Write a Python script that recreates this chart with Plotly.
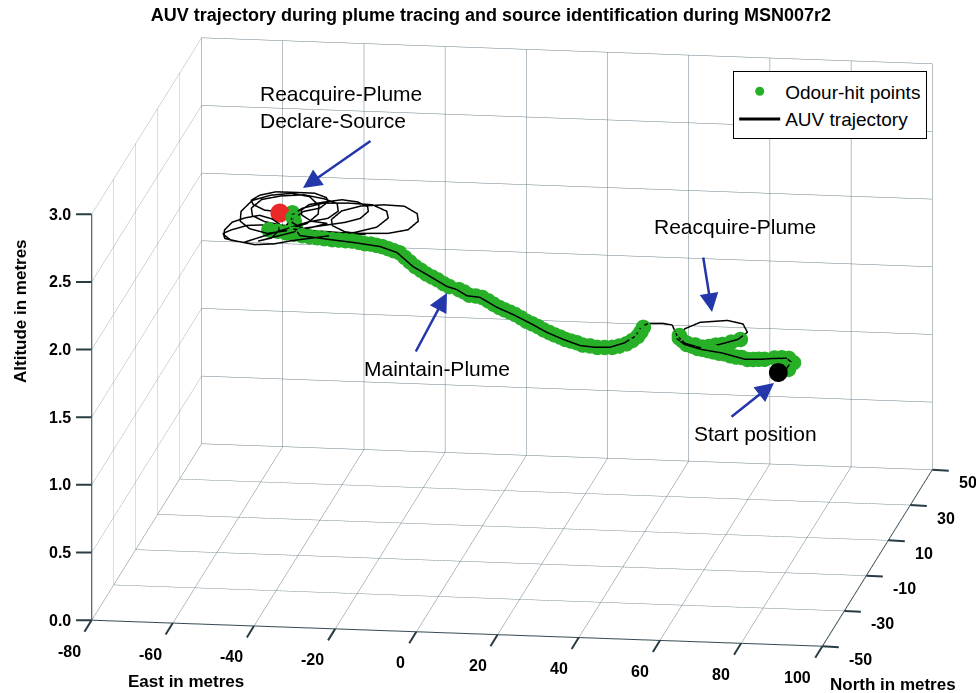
import plotly.graph_objects as go

# ---------------- AUV track (East, North, Altitude in metres) ----------------
# outbound leg from the start point, including the small hook
leg_start_east = [86.8, 88.3, 88.6, 86.7, 83.1, 81.0, 76.9, 70.6, 64.6, 60.0, 57.2]
leg_start_north = [-41.5, -39.7, -36.3, -33.6, -33.3, -34.6, -35.0, -32.7, -30.3, -27.9, -24.2]
leg_start_alt = [1.90, 1.90, 1.91, 1.90, 1.89, 1.90, 1.90, 1.91, 1.90, 1.90, 1.89]

# loop flown while reacquiring the plume
leg_reacq_east = [57.6, 60.5, 66.8, 71.3, 73.4, 72.2, 68.6, 64.1, 60.0, 56.9, 54.4, 51.7, 48.1]
leg_reacq_north = [-18.5, -15.4, -13.8, -16.2, -20.0, -24.1, -27.2, -28.7, -27.3, -23.1, -18.2, -16.7, -17.0]
leg_reacq_alt = [1.89, 1.90, 1.90, 1.91, 1.90, 1.90, 1.90, 1.89, 1.90, 1.90, 1.91, 1.90, 1.90]

# plume maintained up to the source area
leg_maint_east = [47.0, 47.0, 45.5, 42.5, 38.9, 34.9, 30.0, 25.1, 19.8, 14.2, 9.3,
                  3.7, 0.1, -3.1, -5.9, -11.4, -17.1, -23.0, -28.0, -34.4, -41.2, -49.0]
leg_maint_north = [-19.3, -24.4, -29.1, -31.0, -31.3, -29.9, -27.5, -24.0, -19.9, -14.7, -11.1,
                   -5.9, -4.5, -2.0, -0.5, 4.1, 9.9, 17.3, 20.3, 22.6, 23.2, 24.8]
leg_maint_alt = [1.90, 1.90, 1.91, 1.90, 1.90, 1.89, 1.90, 1.90, 1.91, 1.90, 1.90,
                 1.90, 1.89, 1.90, 1.90, 1.91, 1.90, 1.90, 1.90, 1.89, 1.90, 1.90]

# circling around the source before declaring it
leg_source_east = [
    -50.4, -53.9, -58.5, -63.2, -66.6, -67.8, -66.6, -63.2, -58.5, -53.9, -50.4,
    -36.1, -31.7, -30.1, -31.7, -36.1, -42.1, -48.1, -52.5, -54.1, -52.5, -48.1, -42.1,
    -28.0, -24.0, -22.6, -24.0, -28.0, -33.3, -38.7, -42.6, -44.0, -42.6, -38.7, -33.3,
    -52.5, -49.1, -47.8, -49.1, -52.5, -57.3, -62.1, -65.5, -66.8, -65.5, -62.1, -57.3,
    -40.1, -37.0, -35.9, -37.0, -40.1, -44.2, -48.4, -51.4, -52.5, -51.4, -48.4, -44.2,
    -58.2, -55.7, -54.8, -55.7, -58.2, -61.5, -64.9, -67.3, -68.2, -67.3, -64.9, -61.5,
    -48.8, -44.8, -43.4, -44.8, -48.8, -54.1, -59.5, -63.4, -64.8, -63.4, -59.5, -54.1,
    -51.8, -48.3, -47.0, -48.3, -51.8, -56.5, -61.3, -64.7, -66.0, -64.7, -61.3, -56.5,
    -57.3]
leg_source_north = [
    27.3, 29.4, 30.1, 29.4, 27.3, 24.5, 21.7, 19.7, 18.9, 19.7, 21.7,
    27.7, 31.0, 35.5, 40.0, 43.3, 44.5, 43.3, 40.0, 35.5, 31.0, 27.7, 26.5,
    27.8, 30.9, 35.1, 39.3, 42.4, 43.5, 42.4, 39.3, 35.1, 30.9, 27.8, 26.7,
    27.6, 31.6, 37.1, 42.6, 46.6, 48.1, 46.6, 42.6, 37.1, 31.6, 27.6, 26.1,
    33.0, 35.5, 38.8, 42.2, 44.6, 45.5, 44.6, 42.2, 38.8, 35.5, 33.0, 32.1,
    20.9, 23.6, 27.2, 30.9, 33.5, 34.5, 33.5, 30.9, 27.2, 23.6, 20.9, 19.9,
    31.8, 34.9, 39.1, 43.3, 46.4, 47.5, 46.4, 43.3, 39.1, 34.9, 31.8, 30.7,
    38.2, 40.4, 43.4, 46.4, 48.6, 49.4, 48.6, 46.4, 43.4, 40.4, 38.2, 37.4,
    37.1]
leg_source_alt = [
    1.90, 1.91, 1.90, 1.90, 1.89, 1.90, 1.90, 1.91, 1.90, 1.90, 1.90,
    1.90, 1.90, 1.91, 1.90, 1.90, 1.89, 1.90, 1.90, 1.90, 1.91, 1.90, 1.90,
    1.90, 1.89, 1.90, 1.90, 1.91, 1.90, 1.90, 1.90, 1.89, 1.90, 1.90, 1.90,
    1.91, 1.90, 1.90, 1.89, 1.90, 1.90, 1.90, 1.91, 1.90, 1.90, 1.90, 1.89,
    1.90, 1.90, 1.91, 1.90, 1.90, 1.90, 1.89, 1.90, 1.90, 1.91, 1.90, 1.90,
    1.90, 1.89, 1.90, 1.90, 1.90, 1.91, 1.90, 1.90, 1.89, 1.90, 1.90, 1.90,
    1.91, 1.90, 1.90, 1.90, 1.89, 1.90, 1.90, 1.91, 1.90, 1.90, 1.90, 1.89,
    1.90, 1.90, 1.91, 1.90, 1.90, 1.89, 1.90, 1.90, 1.90, 1.91, 1.90, 1.90,
    1.90]

# ---------------- odour-hit positions ----------------
hits_east = [
    86.8, 88.3, 88.6, 86.7, 84.9, 83.1, 81.0, 79.6, 78.3, 76.9, 75.3, 73.8, 72.2, 70.6,
    69.1, 67.6, 66.1, 64.6, 63.1, 61.5, 60.0, 58.6, 57.2,
    72.2, 70.4, 68.6, 67.1, 65.6, 64.1, 62.1, 60.0, 56.9,
    47.0, 47.1, 47.0, 46.3, 45.5, 44.0, 42.5, 40.7, 38.9, 36.9, 34.9, 33.3, 31.6, 30.0,
    28.4, 26.7, 25.1, 23.3, 21.6, 19.8, 17.9, 16.1, 14.2, 12.6, 10.9, 9.3, 7.4, 5.6,
    3.7, 1.9, 0.1, -1.5, -3.1, -5.9, -7.7, -9.6, -11.4, -13.3, -15.2, -17.1, -19.1,
    -21.0, -23.0, -24.7, -26.3, -28.0, -29.6, -31.2, -32.8, -34.4, -36.1, -37.8, -39.5,
    -41.2, -43.2, -45.1, -47.1, -49.0,
    -51.2, -53.4, -55.6, -57.9, -52.0, -52.9, -53.9, -54.8]
hits_north = [
    -39.5, -37.7, -34.3, -31.6, -31.4, -31.3, -32.6, -32.7, -32.9, -33.0, -32.4, -31.9, -31.3, -30.7,
    -30.1, -29.5, -28.9, -28.3, -27.5, -26.7, -25.9, -24.1, -22.2,
    -22.1, -23.7, -25.2, -25.7, -26.2, -26.7, -26.0, -25.3, -21.1,
    -17.3, -19.9, -22.4, -24.8, -27.1, -28.1, -29.0, -29.2, -29.3, -28.6, -27.9, -27.1, -26.3, -25.5,
    -24.3, -23.2, -22.0, -20.6, -19.3, -17.9, -16.2, -14.4, -12.7, -11.5, -10.3, -9.1, -7.4, -5.6,
    -3.9, -3.2, -2.5, -1.2, 0.0, 1.5, 3.0, 4.6, 6.1, 8.0, 10.0, 11.9, 14.4,
    16.8, 19.3, 20.3, 21.3, 22.3, 22.9, 23.5, 24.0, 24.6, 24.8, 24.9, 25.1,
    25.2, 25.6, 26.0, 26.4, 26.8,
    27.4, 28.1, 28.8, 29.4, 31.7, 34.2, 36.8, 39.3]
hits_alt = [
    1.875, 1.875, 1.88, 1.875, 1.875, 1.87, 1.875, 1.875, 1.875, 1.875, 1.88, 1.875, 1.875, 1.88,
    1.875, 1.875, 1.875, 1.875, 1.87, 1.875, 1.875, 1.875, 1.87,
    1.875, 1.875, 1.875, 1.875, 1.87, 1.87, 1.875, 1.875, 1.875,
    1.875, 1.875, 1.875, 1.875, 1.88, 1.875, 1.875, 1.875, 1.875, 1.875, 1.87, 1.875, 1.875, 1.875,
    1.875, 1.875, 1.875, 1.875, 1.88, 1.88, 1.875, 1.875, 1.875, 1.875, 1.875, 1.875, 1.875, 1.875,
    1.875, 1.875, 1.87, 1.875, 1.875, 1.875, 1.875, 1.88, 1.88, 1.875, 1.875, 1.875, 1.875,
    1.875, 1.875, 1.875, 1.875, 1.875, 1.875, 1.875, 1.87, 1.87, 1.875, 1.875, 1.875,
    1.875, 1.875, 1.875, 1.875, 1.875,
    1.875, 1.875, 1.875, 1.875, 1.875, 1.875, 1.875, 1.875]

# key positions
start_pos = (86.8, -41.5, 1.90)
source_pos = (-57.3, 37.1, 1.90)

# axis ranges and ticks
east_range = [-80, 100]
north_range = [-50, 50]
alt_range = [0, 3]
east_ticks = [-80, -60, -40, -20, 0, 20, 40, 60, 80, 100]
north_ticks = [-50, -30, -10, 10, 30, 50]
alt_ticks = [0.0, 0.5, 1.0, 1.5, 2.0, 2.5, 3.0]

track_east = leg_start_east + leg_reacq_east + leg_maint_east + leg_source_east
track_north = leg_start_north + leg_reacq_north + leg_maint_north + leg_source_north
track_alt = leg_start_alt + leg_reacq_alt + leg_maint_alt + leg_source_alt

FONT = "Liberation Sans, Arial, sans-serif"
GREEN = "rgb(40,175,40)"
ARROW = "rgb(35,55,170)"
AXIS = "rgb(40,60,70)"

fig = go.Figure()
fig.add_trace(go.Scatter3d(
    x=track_east, y=track_north, z=track_alt, mode="lines", name="AUV trajectory",
    legendrank=2, line=dict(color="black", width=3)))
fig.add_trace(go.Scatter3d(
    x=hits_east, y=hits_north, z=hits_alt, mode="markers", name="Odour-hit points",
    legendrank=1, marker=dict(symbol="circle", size=9, color=GREEN)))
fig.add_trace(go.Scatter3d(
    x=[start_pos[0]], y=[start_pos[1]], z=[start_pos[2]], mode="markers",
    marker=dict(symbol="circle", size=11, color="black"), showlegend=False))
fig.add_trace(go.Scatter3d(
    x=[source_pos[0]], y=[source_pos[1]], z=[source_pos[2]], mode="markers",
    marker=dict(symbol="circle", size=11, color="rgb(235,40,40)"), showlegend=False))

axis_style = dict(
    showbackground=False, showgrid=True, gridcolor="rgb(105,125,135)", gridwidth=1,
    showline=True, linecolor=AXIS, linewidth=2,
    ticks="", showticklabels=False,
    zeroline=False, showspikes=False, title=dict(text=""),
)

# tick marks and tick labels placed on the box edges
scene_notes = []
tick_font = dict(family=FONT, size=16, color="black", weight="bold")


def tick(x, y, z, dx, dy):
    scene_notes.append(dict(x=x, y=y, z=z, text="", showarrow=True, arrowhead=0,
                            arrowwidth=2, arrowcolor=AXIS, ax=dx, ay=dy, standoff=0))


def tick_label(x, y, z, text, anchor, sx, sy):
    scene_notes.append(dict(x=x, y=y, z=z, text=text, showarrow=False, xanchor=anchor,
                            yanchor="middle", xshift=sx, yshift=sy, font=tick_font))


for v in east_ticks:
    tick(v, north_range[0], alt_range[0], -8, 13)
    tick_label(v, north_range[0], alt_range[0], "%d" % v, "right", -9, -31)
for v in north_ticks:
    tick(east_range[1], v, alt_range[0], 18, 1)
    tick_label(east_range[1], v, alt_range[0], "%d" % v, "left", 25, -13)
for v in alt_ticks:
    tick(east_range[0], north_range[0], v, -17, 0)
    tick_label(east_range[0], north_range[0], v, "%.1f" % v, "right", -19, 0)

# orthographic view: the box scale is set through the aspect ratio
ZOOM = 2.16
fig.update_layout(
    width=976, height=693,
    margin=dict(l=0, r=0, t=0, b=0),
    paper_bgcolor="white",
    title=dict(text="<b>AUV trajectory during plume tracing and source identification during MSN007r2</b>",
               x=0.503, xanchor="center", y=0.979, yanchor="middle", yref="container",
               font=dict(family=FONT, size=18, color="black")),
    scene=dict(
        domain=dict(x=[0.049, 1.0], y=[0.013, 1.0]),
        xaxis=dict(axis_style, range=east_range, tickvals=east_ticks),
        yaxis=dict(axis_style, range=north_range, tickvals=north_ticks),
        zaxis=dict(axis_style, range=alt_range, tickvals=alt_ticks),
        aspectmode="manual",
        aspectratio=dict(x=1.0 * ZOOM, y=1.01 * ZOOM, z=0.566 * ZOOM),
        camera=dict(eye=dict(x=0.143 * 1.6, y=-0.960 * 1.6, z=0.239 * 1.6),
                    up=dict(x=0, y=0, z=1), center=dict(x=0, y=0, z=0),
                    projection=dict(type="orthographic")),
        annotations=scene_notes,
    ),
    legend=dict(x=0.950, y=0.897, xanchor="right", yanchor="top",
                bgcolor="white", bordercolor="black", borderwidth=1, itemwidth=41,
                font=dict(family=FONT, size=19, color="black")),
    showlegend=True,
)

W, H = 976.0, 693.0


def px(xp, yp):
    return xp / W, 1 - yp / H


def label(text, xp, yp, anchor="left"):
    x, y = px(xp, yp)
    fig.add_annotation(x=x, y=y, xref="paper", yref="paper", text=text, showarrow=False,
                       xanchor=anchor, yanchor="middle", align="left",
                       font=dict(family=FONT, size=21, color="black"))


def arrow(tail, head):
    x, y = px(*head)
    fig.add_annotation(x=x, y=y, xref="paper", yref="paper", text="", showarrow=True,
                       ax=tail[0] - head[0], ay=tail[1] - head[1],
                       arrowhead=2, arrowsize=1.5, arrowwidth=2.5, arrowcolor=ARROW)


label("Reacquire-Plume<br>Declare-Source", 258, 107)
arrow((372, 140), (303, 188))
label("Reacquire-Plume", 652, 226)
arrow((703, 256), (712, 312))
label("Maintain-Plume", 362, 369)
arrow((415, 353), (447, 293))
label("Start position", 692, 433)
arrow((730, 418), (774, 383))

# axis titles
for text, xp, yp, ang in [("East in metres", 186, 681, 0),
                          ("North in metres", 893, 684, 0),
                          ("Altitude in metres", 21, 311, -90)]:
    x, y = px(xp, yp)
    fig.add_annotation(x=x, y=y, xref="paper", yref="paper", text="<b>%s</b>" % text,
                       showarrow=False, textangle=ang, xanchor="center", yanchor="middle",
                       font=dict(family=FONT, size=17, color="black"))

fig.write_html("out.html")
